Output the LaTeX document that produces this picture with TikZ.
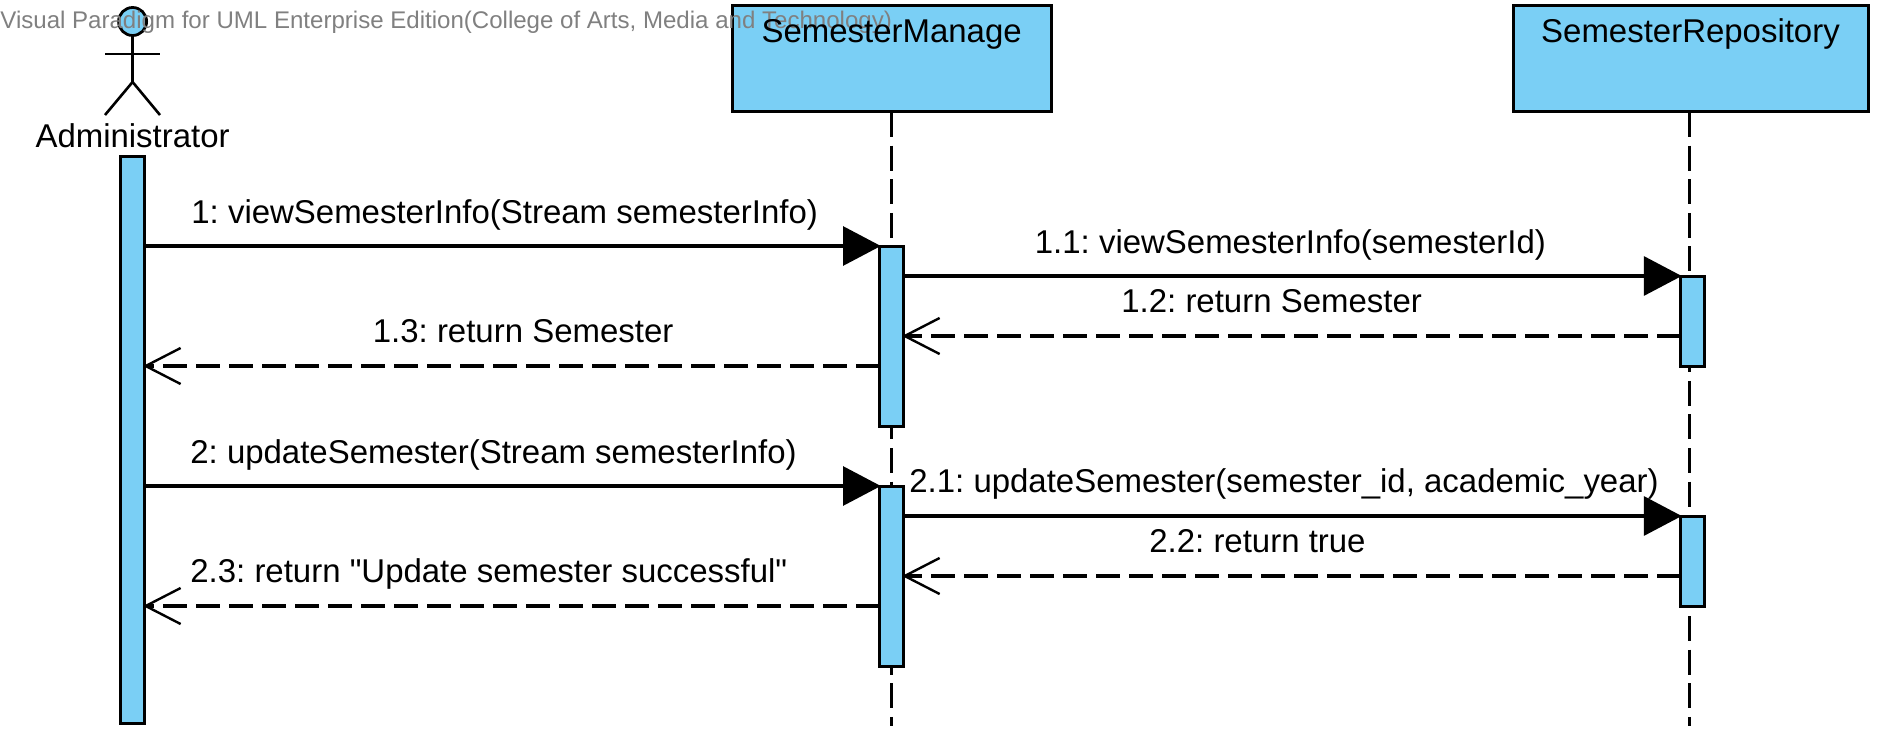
\documentclass[tikz,border=0pt]{standalone}
\usepackage{fontspec}
\newfontfamily\lib{Liberation Sans}
\usetikzlibrary{arrows.meta}
\definecolor{vpblue}{HTML}{7ACFF5}
\definecolor{vpgray}{HTML}{808080}
\tikzset{
  obj/.style={draw=black,fill=vpblue,line width=1.5pt,inner sep=0pt,outer sep=0pt,minimum width=177.5pt,minimum height=53pt},
  act/.style={draw=black,fill=vpblue,line width=1.5pt,inner sep=0pt,outer sep=0pt,minimum width=12pt},
  life/.style={line width=1.5pt,dash pattern=on 12.5pt off 4.3pt},
  stick/.style={line width=1.3pt},
  msg/.style={line width=1.55pt,shorten >=-0.6pt,-{Triangle[length=18.9pt,width=19.5pt,fill=black]}},
  ret/.style={line width=1.55pt,shorten >=-0.8pt,dash pattern=on 12pt off 4.5pt,-{Straight Barb[length=17.5pt,width=18pt,line width=1.2pt]}},
  txt/.style={font=\lib\frenchspacing\fontsize{16.48pt}{19pt}\selectfont,anchor=base,inner sep=0pt,text=black},
  ltxt/.style={txt,anchor=base west},
  wm/.style={font=\lib\frenchspacing\fontsize{12.03pt}{14pt}\selectfont,anchor=base west,inner sep=0pt,text=vpgray}
}
\begin{document}
\begin{tikzpicture}[x=0.5pt,y=-0.5pt]
\useasboundingbox (0,0) rectangle (1884,738);
% lifeline ends
\coordinate (smEnd) at (891.6,726);
\coordinate (rpEnd) at (1689.3,726);
% object boxes
\node[obj,minimum width=159.5pt] (sm) at (891.6,59) {};
\node[obj] (rp) at (1690.5,59) {};
\draw[life] (sm.south) -- (smEnd);
\draw[life] (rp.south -| rpEnd) -- (rpEnd);
% actor
\node[draw=black,fill=vpblue,line width=1.4pt,circle,inner sep=0pt,outer sep=0pt,minimum size=14pt] (head) at (132.6,21.5) {};
\coordinate (armL) at (105,54);
\coordinate (armR) at (160,54);
\coordinate (hip) at (132.6,82);
\coordinate (legL) at (105,115);
\coordinate (legR) at (160,115);
\draw[stick] (head.south) -- (hip);
\draw[stick] (armL) -- (armR);
\draw[stick] (legL) -- (hip) -- (legR);
\node[txt] (admt) at (132.6,147.7) {Administrator};
% activations
\node[act,minimum height=283.5pt] (adm) at (132.6,439.5) {};
\node[act,minimum height=90pt] (sm1) at (891.6,336) {};
\node[act,minimum height=90pt] (sm2) at (891.6,576) {};
\node[act,minimum height=45pt] (rp1) at (1692.5,321) {};
\node[act,minimum height=45pt] (rp2) at (1692.5,561) {};
% messages
\draw[msg] (adm.east |- sm1.north) -- (sm1.north west);
\draw[msg] (sm1.east |- rp1.north) -- (rp1.north west);
\draw[ret] (rp1.west |- 0,336) -- (sm1.east |- 0,336);
\draw[ret] (sm1.west |- 0,366) -- (adm.east |- 0,366);
\draw[msg] (adm.east |- sm2.north) -- (sm2.north west);
\draw[msg] (sm2.east |- rp2.north) -- (rp2.north west);
\draw[ret] (rp2.west |- 0,576) -- (sm2.east |- 0,576);
\draw[ret] (sm2.west |- 0,606) -- (adm.east |- 0,606);
% labels
\node[ltxt] (m1) at (191,223) {1: viewSemesterInfo(Stream semesterInfo)};
\node[ltxt] (m11) at (1034.5,253) {1.1: viewSemesterInfo(semesterId)};
\node[ltxt] (m12) at (1121,312) {1.2: return Semester};
\node[ltxt] (m13) at (372.5,342) {1.3: return Semester};
\node[ltxt] (m2) at (190,463) {2: updateSemester(Stream semesterInfo)};
\node[ltxt] (m21) at (909,492) {2.1: updateSemester(semester\_id, academic\_year)};
\node[ltxt] (m22) at (1149,552) {2.2: return true};
\node[ltxt] (m23) at (190,582) {2.3: return "Update semester successful"};
% watermark under the titles
\node[wm] (wmk) at (0,29) {Visual Paradigm for UML Enterprise Edition(College of Arts, Media and Technology)};
\node[txt] (smt) at (891.6,42.5) {SemesterManage};
\node[txt] (rpt) at (1690.5,42.5) {SemesterRepository};
\end{tikzpicture}
\end{document}
